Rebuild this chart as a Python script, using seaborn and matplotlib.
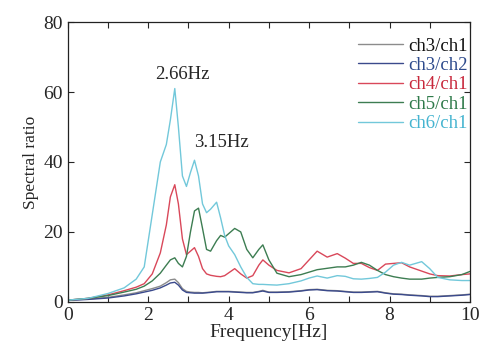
import numpy as np
import pandas as pd
import matplotlib
matplotlib.use("Agg")
import matplotlib.pyplot as plt
from matplotlib.ticker import MultipleLocator
import seaborn as sns

# Spectral ratio data
freq = [0, 0.5, 1.0, 1.4, 1.7, 1.9, 2.1, 2.3, 2.45, 2.55, 2.66, 2.75, 2.85, 2.95,
        3.05, 3.15, 3.25, 3.35, 3.45, 3.55, 3.7, 3.8, 3.9, 4.0, 4.15, 4.3, 4.45,
        4.6, 4.75, 4.85, 5.0, 5.2, 5.5, 5.8, 6.0, 6.2, 6.45, 6.7, 6.9, 7.1, 7.3,
        7.5, 7.7, 7.9, 8.1, 8.3, 8.5, 8.8, 9.0, 9.2, 9.5, 9.8, 10.0]

ch3_ch1 = [0.5, 0.8, 1.3, 2.0, 2.6, 3.2, 3.8, 4.5, 5.5, 6.3, 6.5, 5.5, 3.8, 3.0,
           2.8, 2.7, 2.7, 2.6, 2.7, 2.8, 3.0, 3.0, 3.0, 3.0, 2.9, 2.8, 2.7,
           2.7, 3.0, 3.3, 2.8, 2.8, 2.9, 3.2, 3.5, 3.6, 3.3, 3.2, 3.0, 2.8, 2.8,
           2.9, 3.0, 2.6, 2.3, 2.2, 2.0, 1.8, 1.6, 1.6, 1.8, 2.0, 2.2]
ch3_ch2 = [0.4, 0.7, 1.1, 1.7, 2.3, 2.8, 3.3, 4.0, 4.8, 5.4, 5.6, 4.8, 3.4, 2.7,
           2.6, 2.5, 2.5, 2.5, 2.6, 2.7, 2.9, 2.9, 2.9, 2.9, 2.8, 2.7, 2.6,
           2.6, 2.9, 3.1, 2.7, 2.7, 2.8, 3.1, 3.4, 3.5, 3.2, 3.1, 2.9, 2.7, 2.7,
           2.8, 2.9, 2.5, 2.2, 2.1, 1.9, 1.7, 1.5, 1.5, 1.7, 1.9, 2.1]
ch4_ch1 = [0.5, 1.0, 2.0, 3.2, 4.2, 5.2, 8.0, 14.0, 22.0, 30.0, 33.5, 28.0, 18.0, 13.5,
           14.5, 15.5, 13.0, 9.5, 8.0, 7.6, 7.3, 7.2, 7.5, 8.3, 9.5, 8.0, 6.8,
           7.5, 10.5, 12.0, 10.5, 9.0, 8.3, 9.5, 12.0, 14.5, 12.8, 13.8, 12.5, 11.0, 11.0,
           9.8, 9.0, 10.8, 11.0, 11.2, 10.0, 8.8, 8.0, 7.5, 7.4, 7.8, 8.0]
ch5_ch1 = [0.5, 1.0, 1.8, 2.8, 3.6, 4.5, 6.0, 8.2, 10.5, 12.0, 12.6, 11.0, 10.0, 13.0,
           20.0, 26.0, 26.8, 21.0, 15.0, 14.5, 17.5, 19.0, 18.5, 19.5, 21.0, 20.0, 15.0,
           12.6, 15.0, 16.3, 12.0, 8.2, 7.2, 7.8, 8.5, 9.2, 9.6, 10.0, 10.0, 10.5, 11.3,
           10.5, 9.0, 7.8, 7.2, 6.8, 6.5, 6.5, 6.8, 7.0, 7.2, 7.8, 8.7]
ch6_ch1 = [0.5, 1.0, 2.4, 4.0, 6.5, 10.0, 25.0, 40.0, 45.0, 52.0, 61.0, 50.0, 36.0, 33.0,
           37.0, 40.5, 36.0, 28.0, 25.5, 26.5, 28.5, 24.0, 19.0, 16.0, 13.5, 10.0, 7.0,
           5.2, 5.0, 5.0, 4.9, 4.8, 5.2, 6.0, 6.8, 7.4, 6.8, 7.5, 7.3, 6.6, 6.5,
           6.7, 7.0, 8.5, 10.5, 11.3, 10.5, 11.5, 9.5, 7.0, 6.3, 6.1, 6.1]

labels = ["ch3/ch1", "ch3/ch2", "ch4/ch1", "ch5/ch1", "ch6/ch1"]
line_colors = ["#8c8c8c", "#3b4a8c", "#d9485a", "#3d7d52", "#72c8da"]
text_colors = ["#111111", "#2d4a8c", "#c8283c", "#2f7a4a", "#45b4d0"]

df = pd.DataFrame({"freq": freq, "ch3/ch1": ch3_ch1, "ch3/ch2": ch3_ch2,
                   "ch4/ch1": ch4_ch1, "ch5/ch1": ch5_ch1, "ch6/ch1": ch6_ch1})
long_df = df.melt(id_vars="freq", var_name="pair", value_name="ratio")

sns.set_style("ticks")
plt.rcParams['font.family'] = ['Liberation Serif', 'DejaVu Serif']

fig = plt.figure(figsize=(4.81, 3.45), dpi=100)
ax = fig.add_axes([0.141, 0.125, 0.836, 0.811])

sns.lineplot(data=long_df, x="freq", y="ratio", hue="pair", hue_order=labels,
             palette=line_colors, linewidth=1.0, ax=ax)

ax.set_xlim(0, 10)
ax.set_ylim(0, 80)
ax.xaxis.set_major_locator(MultipleLocator(2))
ax.xaxis.set_minor_locator(MultipleLocator(1))
ax.yaxis.set_major_locator(MultipleLocator(20))
ax.tick_params(which="both", direction="in", top=True, right=True,
               length=4, width=0.8, labelsize=14)
for s in ax.spines.values():
    s.set_linewidth(0.9)
    s.set_color("#222222")

ax.set_xlabel("Frequency[Hz]", fontsize=14, labelpad=0)
ax.set_ylabel("Spectral ratio", fontsize=12.5, labelpad=3)

ax.text(2.86, 65, "2.66Hz", fontsize=13.5, ha="center", va="center")
ax.text(3.83, 45.5, "3.15Hz", fontsize=13.5, ha="center", va="center")

leg = ax.legend(loc="upper right", bbox_to_anchor=(0.995, 0.945), frameon=False,
                fontsize=13.5, handlelength=2.4, handletextpad=0.3,
                labelspacing=0.12, borderpad=0, borderaxespad=0)
for txt, c in zip(leg.get_texts(), text_colors):
    txt.set_color(c)

fig.savefig("out.png", dpi=100)
